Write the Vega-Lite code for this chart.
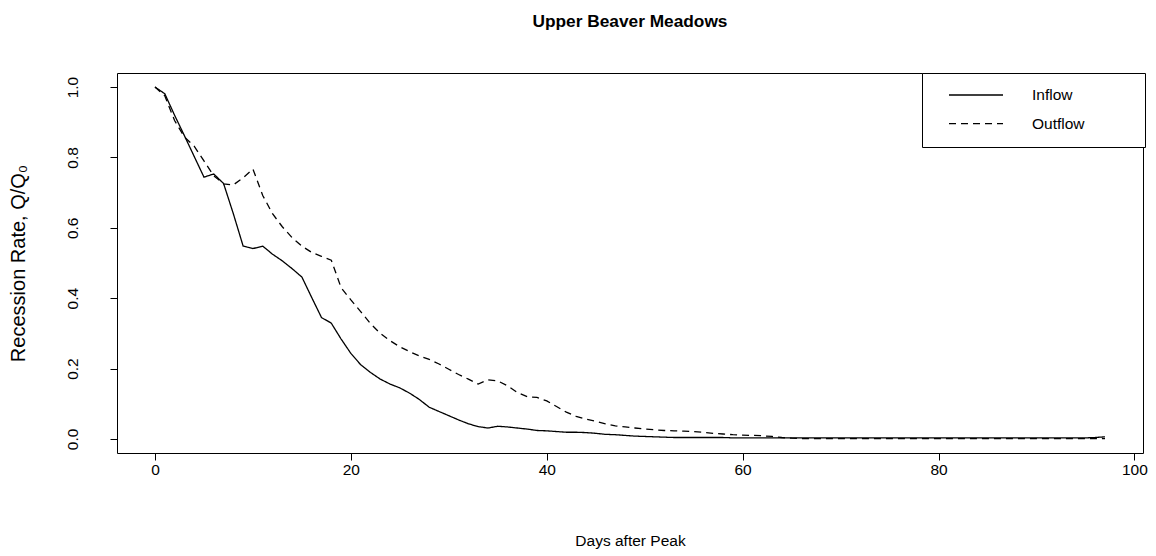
{
  "$schema": "https://vega.github.io/schema/vega-lite/v6.json",
  "width": 1026,
  "height": 380,
  "autosize": "none",
  "padding": {"left": 117, "top": 73, "right": 13, "bottom": 103},
  "background": "white",
  "title": {
    "text": "Upper Beaver Meadows",
    "font": "Liberation Sans",
    "fontSize": 17.3,
    "fontWeight": "bold",
    "color": "black",
    "anchor": "middle",
    "offset": 42
  },
  "data": {
    "values": [
      {"day": 0, "Inflow": 1.000, "Outflow": 1.000},
      {"day": 1, "Inflow": 0.981, "Outflow": 0.975},
      {"day": 2, "Inflow": 0.920, "Outflow": 0.905},
      {"day": 3, "Inflow": 0.862, "Outflow": 0.858},
      {"day": 4, "Inflow": 0.803, "Outflow": 0.832},
      {"day": 5, "Inflow": 0.744, "Outflow": 0.790},
      {"day": 6, "Inflow": 0.753, "Outflow": 0.748},
      {"day": 7, "Inflow": 0.726, "Outflow": 0.725},
      {"day": 8, "Inflow": 0.640, "Outflow": 0.722},
      {"day": 9, "Inflow": 0.548, "Outflow": 0.742},
      {"day": 10, "Inflow": 0.541, "Outflow": 0.767},
      {"day": 11, "Inflow": 0.548, "Outflow": 0.692},
      {"day": 12, "Inflow": 0.525, "Outflow": 0.640},
      {"day": 13, "Inflow": 0.506, "Outflow": 0.603},
      {"day": 14, "Inflow": 0.484, "Outflow": 0.572},
      {"day": 15, "Inflow": 0.460, "Outflow": 0.548},
      {"day": 16, "Inflow": 0.402, "Outflow": 0.530},
      {"day": 17, "Inflow": 0.345, "Outflow": 0.519},
      {"day": 18, "Inflow": 0.329, "Outflow": 0.508},
      {"day": 19, "Inflow": 0.284, "Outflow": 0.430},
      {"day": 20, "Inflow": 0.243, "Outflow": 0.395},
      {"day": 21, "Inflow": 0.211, "Outflow": 0.362},
      {"day": 22, "Inflow": 0.189, "Outflow": 0.328},
      {"day": 23, "Inflow": 0.170, "Outflow": 0.300},
      {"day": 24, "Inflow": 0.156, "Outflow": 0.279},
      {"day": 25, "Inflow": 0.145, "Outflow": 0.262},
      {"day": 26, "Inflow": 0.130, "Outflow": 0.248},
      {"day": 27, "Inflow": 0.112, "Outflow": 0.236},
      {"day": 28, "Inflow": 0.090, "Outflow": 0.226},
      {"day": 29, "Inflow": 0.078, "Outflow": 0.213},
      {"day": 30, "Inflow": 0.066, "Outflow": 0.198},
      {"day": 31, "Inflow": 0.054, "Outflow": 0.183},
      {"day": 32, "Inflow": 0.043, "Outflow": 0.170},
      {"day": 33, "Inflow": 0.035, "Outflow": 0.156},
      {"day": 34, "Inflow": 0.031, "Outflow": 0.168},
      {"day": 35, "Inflow": 0.036, "Outflow": 0.165},
      {"day": 36, "Inflow": 0.034, "Outflow": 0.151},
      {"day": 37, "Inflow": 0.031, "Outflow": 0.132},
      {"day": 38, "Inflow": 0.028, "Outflow": 0.120},
      {"day": 39, "Inflow": 0.024, "Outflow": 0.118},
      {"day": 40, "Inflow": 0.023, "Outflow": 0.108},
      {"day": 41, "Inflow": 0.021, "Outflow": 0.092},
      {"day": 42, "Inflow": 0.019, "Outflow": 0.076},
      {"day": 43, "Inflow": 0.019, "Outflow": 0.064},
      {"day": 44, "Inflow": 0.018, "Outflow": 0.056},
      {"day": 45, "Inflow": 0.016, "Outflow": 0.050},
      {"day": 46, "Inflow": 0.013, "Outflow": 0.043},
      {"day": 47, "Inflow": 0.012, "Outflow": 0.037},
      {"day": 48, "Inflow": 0.010, "Outflow": 0.034},
      {"day": 49, "Inflow": 0.008, "Outflow": 0.031},
      {"day": 50, "Inflow": 0.007, "Outflow": 0.028},
      {"day": 51, "Inflow": 0.006, "Outflow": 0.026},
      {"day": 52, "Inflow": 0.005, "Outflow": 0.024},
      {"day": 53, "Inflow": 0.004, "Outflow": 0.023},
      {"day": 54, "Inflow": 0.004, "Outflow": 0.022},
      {"day": 55, "Inflow": 0.004, "Outflow": 0.021},
      {"day": 56, "Inflow": 0.004, "Outflow": 0.019},
      {"day": 57, "Inflow": 0.004, "Outflow": 0.016},
      {"day": 58, "Inflow": 0.004, "Outflow": 0.014},
      {"day": 59, "Inflow": 0.003, "Outflow": 0.012},
      {"day": 60, "Inflow": 0.003, "Outflow": 0.011},
      {"day": 61, "Inflow": 0.003, "Outflow": 0.010},
      {"day": 62, "Inflow": 0.003, "Outflow": 0.009},
      {"day": 63, "Inflow": 0.003, "Outflow": 0.007},
      {"day": 64, "Inflow": 0.003, "Outflow": 0.004},
      {"day": 65, "Inflow": 0.003, "Outflow": 0.002},
      {"day": 66, "Inflow": 0.003, "Outflow": 0.001},
      {"day": 67, "Inflow": 0.003, "Outflow": 0.001},
      {"day": 68, "Inflow": 0.003, "Outflow": 0.001},
      {"day": 69, "Inflow": 0.003, "Outflow": 0.001},
      {"day": 70, "Inflow": 0.003, "Outflow": 0.001},
      {"day": 71, "Inflow": 0.003, "Outflow": 0.001},
      {"day": 72, "Inflow": 0.003, "Outflow": 0.001},
      {"day": 73, "Inflow": 0.003, "Outflow": 0.001},
      {"day": 74, "Inflow": 0.003, "Outflow": 0.001},
      {"day": 75, "Inflow": 0.003, "Outflow": 0.001},
      {"day": 76, "Inflow": 0.003, "Outflow": 0.001},
      {"day": 77, "Inflow": 0.003, "Outflow": 0.001},
      {"day": 78, "Inflow": 0.003, "Outflow": 0.001},
      {"day": 79, "Inflow": 0.003, "Outflow": 0.001},
      {"day": 80, "Inflow": 0.003, "Outflow": 0.001},
      {"day": 81, "Inflow": 0.003, "Outflow": 0.001},
      {"day": 82, "Inflow": 0.003, "Outflow": 0.001},
      {"day": 83, "Inflow": 0.003, "Outflow": 0.001},
      {"day": 84, "Inflow": 0.003, "Outflow": 0.001},
      {"day": 85, "Inflow": 0.003, "Outflow": 0.001},
      {"day": 86, "Inflow": 0.003, "Outflow": 0.001},
      {"day": 87, "Inflow": 0.003, "Outflow": 0.001},
      {"day": 88, "Inflow": 0.003, "Outflow": 0.001},
      {"day": 89, "Inflow": 0.003, "Outflow": 0.001},
      {"day": 90, "Inflow": 0.003, "Outflow": 0.001},
      {"day": 91, "Inflow": 0.003, "Outflow": 0.001},
      {"day": 92, "Inflow": 0.003, "Outflow": 0.001},
      {"day": 93, "Inflow": 0.003, "Outflow": 0.001},
      {"day": 94, "Inflow": 0.003, "Outflow": 0.001},
      {"day": 95, "Inflow": 0.003, "Outflow": 0.001},
      {"day": 96, "Inflow": 0.004, "Outflow": 0.001},
      {"day": 97, "Inflow": 0.006, "Outflow": 0.001}
    ]
  },
  "transform": [
    {"fold": ["Inflow", "Outflow"], "as": ["flow", "q"]}
  ],
  "mark": {"type": "line", "strokeWidth": 1.3, "color": "black", "clip": true},
  "encoding": {
    "x": {
      "field": "day",
      "type": "quantitative",
      "scale": {"domain": [-3.88, 100.88], "nice": false, "zero": false},
      "axis": {
        "title": "Days after Peak",
        "values": [0, 20, 40, 60, 80, 100],
        "labelPadding": 2,
        "titlePadding": 56
      }
    },
    "y": {
      "field": "q",
      "type": "quantitative",
      "scale": {"domain": [-0.04, 1.04], "nice": false, "zero": false},
      "axis": {
        "title": "Recession Rate, Q/Q₀",
        "titleFontSize": 20,
        "values": [0, 0.2, 0.4, 0.6, 0.8, 1.0],
        "format": ".1f",
        "labelAngle": -90,
        "labelAlign": "center",
        "labelBaseline": "bottom",
        "labelPadding": 30,
        "titlePadding": 37
      }
    },
    "strokeDash": {
      "field": "flow",
      "type": "nominal",
      "scale": {"domain": ["Inflow", "Outflow"], "range": [[1, 0], [7, 5]]},
      "legend": {
        "orient": "none",
        "legendX": 805,
        "legendY": 0,
        "title": " ",
        "titleOrient": "right",
        "titlePadding": 46,
        "symbolType": "stroke",
        "symbolSize": 2916,
        "symbolStrokeWidth": 1.3,
        "symbolStrokeColor": "black",
        "symbolOffset": 12,
        "clipHeight": 16,
        "labelOffset": 28,
        "labelFontSize": 15.5,
        "labelFont": "Liberation Sans",
        "labelColor": "black",
        "padding": 14,
        "rowPadding": 11.7,
        "strokeColor": "black",
        "fillColor": "white",
        "cornerRadius": 0
      }
    }
  },
  "config": {
    "view": {"stroke": "black", "strokeWidth": 1},
    "axis": {
      "domain": false,
      "grid": false,
      "ticks": true,
      "tickColor": "black",
      "tickSize": 7,
      "tickWidth": 1,
      "labelFont": "Liberation Sans",
      "labelFontSize": 15.5,
      "labelColor": "black",
      "titleFont": "Liberation Sans",
      "titleFontSize": 15.5,
      "titleFontWeight": "normal",
      "titleColor": "black"
    }
  }
}
